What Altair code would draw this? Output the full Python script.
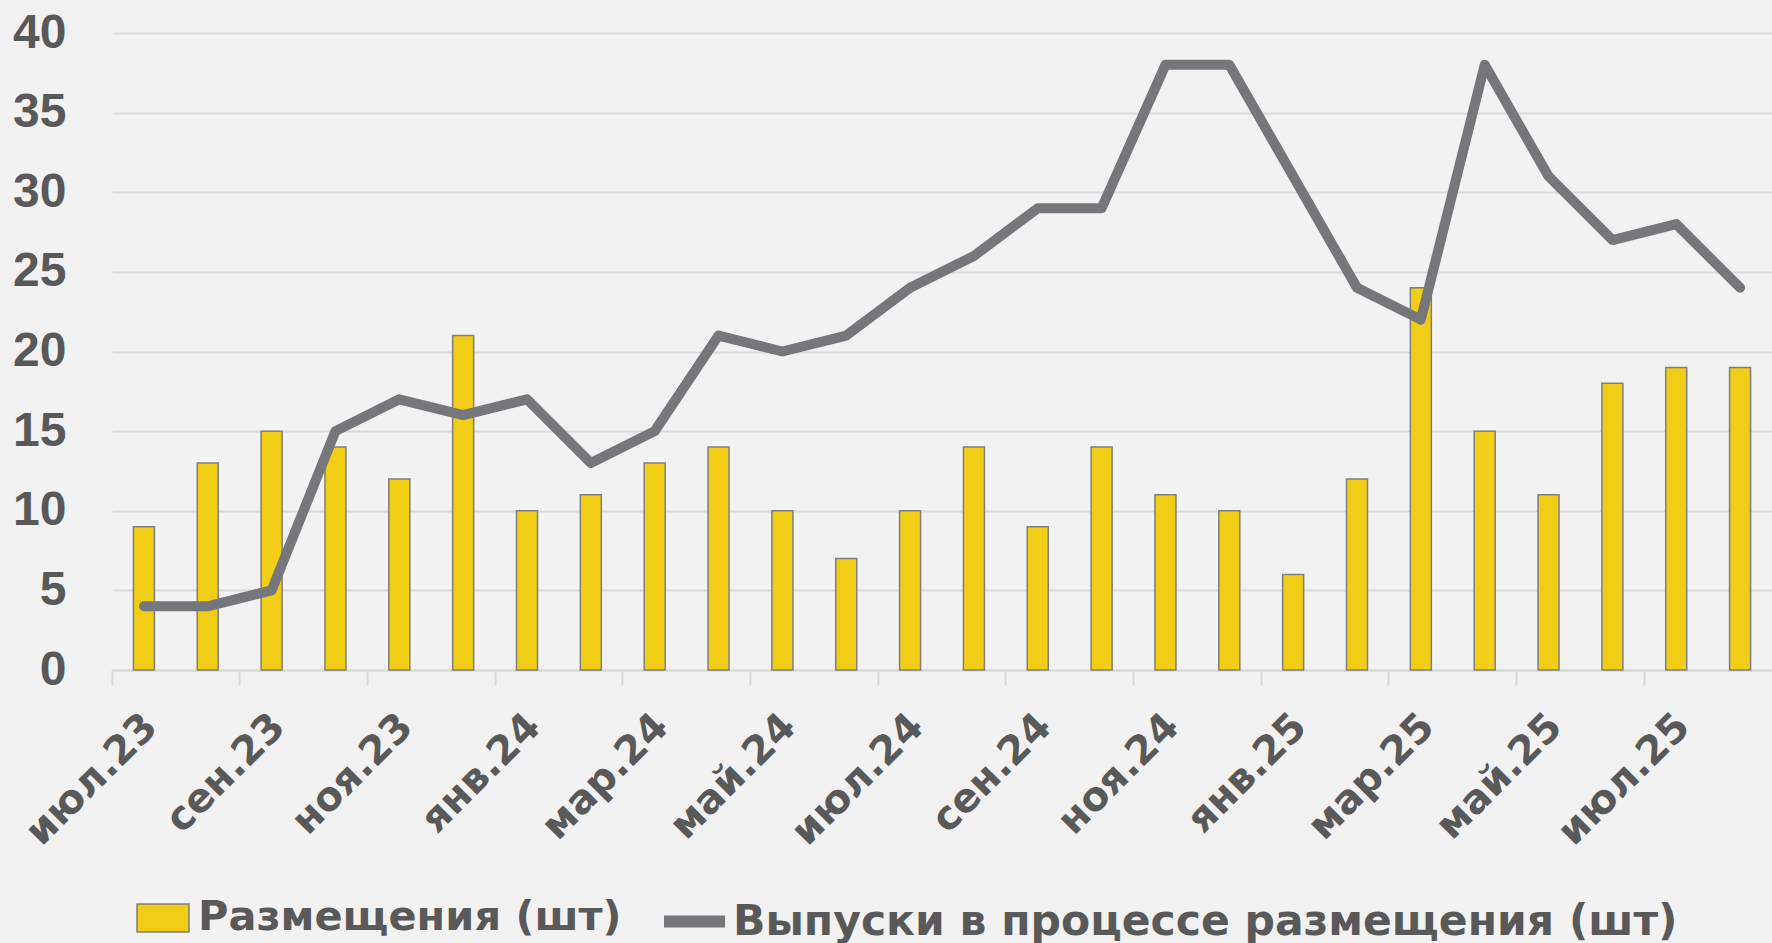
import altair as alt
import pandas as pd

months = ["июл.23", "авг.23", "сен.23", "окт.23", "ноя.23", "дек.23",
          "янв.24", "фев.24", "мар.24", "апр.24", "май.24", "июн.24",
          "июл.24", "авг.24", "сен.24", "окт.24", "ноя.24", "дек.24",
          "янв.25", "фев.25", "мар.25", "апр.25", "май.25", "июн.25",
          "июл.25", "авг.25"]
placements = [9, 13, 15, 14, 12, 21, 10, 11, 13, 14, 10, 7, 10, 14, 9, 14,
              11, 10, 6, 12, 24, 15, 11, 18, 19, 19]
in_process = [4, 4, 5, 15, 17, 16, 17, 13, 15, 21, 20, 21, 24, 26, 29, 29,
              38, 38, 31, 24, 22, 38, 31, 27, 28, 24]
y_ticks = [0, 5, 10, 15, 20, 25, 30, 35, 40]
x_labels = months[::2]
bar_name = "Размещения (шт)"
line_name = "Выпуски в процессе размещения (шт)"

df = pd.DataFrame({
    "month": months,
    "placements": placements,
    "in_process": in_process,
    "bar_series": bar_name,
    "line_series": line_name,
})

W, H = 1660, 637
band = W / len(months)
TXT = "#595959"
GRID = "#D9D9D9"
LFONT = "DejaVu Sans"

x_enc = alt.X(
    "month:N", sort=months, title=None,
    scale=alt.Scale(paddingInner=0, paddingOuter=0),
    axis=alt.Axis(
        values=x_labels, labelAngle=-45, bandPosition=0, labelOffset=-7,
        labelFont=LFONT, labelFontSize=40, labelFontWeight="bold",
        labelColor=TXT, labelPadding=21, labelLimit=1000,
        domainColor=GRID, domainWidth=2, tickColor=GRID, tickWidth=2,
        tickSize=15, grid=False,
    ),
)

y_axis = alt.Axis(
    values=y_ticks, title=None, domain=False, ticks=False, labelPadding=46,
    grid=True, gridColor=GRID, gridWidth=2,
    labelFont="Liberation Sans", labelFontSize=48,
    labelFontWeight="bold", labelColor=TXT,
)
y_scale = alt.Scale(domain=[0, 40], nice=False)

bars = alt.Chart(df).mark_bar(size=21, stroke="#7F7F7F", strokeWidth=1.5).encode(
    x=x_enc,
    y=alt.Y("placements:Q", scale=y_scale, axis=y_axis),
    fill=alt.Fill(
        "bar_series:N", scale=alt.Scale(range=["#F2CD15"]),
        legend=alt.Legend(
            title=None, orient="none", legendX=24, legendY=858, padding=0,
            symbolType="M-1,-0.54H1V0.54H-1Z", symbolSize=2704,
            symbolStrokeColor="#7F7F7F", symbolStrokeWidth=1.5,
            labelFont=LFONT, labelFontSize=41.5, labelFontWeight="bold",
            labelColor=TXT, labelLimit=2000, labelOffset=8,
        ),
    ),
)

line = alt.Chart(df).mark_line(strokeWidth=10, strokeJoin="round", strokeCap="round").encode(
    x=alt.X("month:N", sort=months),
    y=alt.Y("in_process:Q", scale=y_scale, title=None),
    stroke=alt.Stroke(
        "line_series:N", scale=alt.Scale(range=["#76777B"]),
        legend=alt.Legend(
            title=None, orient="none", legendX=546, legendY=852, padding=0,
            symbolType="stroke", symbolSize=3721, symbolStrokeWidth=12,
            labelFont=LFONT, labelFontSize=42.5, labelFontWeight="bold",
            labelColor=TXT, labelLimit=2000, labelOffset=2,
        ),
    ),
)

chart = alt.layer(bars, line).properties(
    width=W, height=H,
    padding={"left": 112, "top": 33, "right": 0, "bottom": 273},
    autosize=alt.AutoSizeParams(type="none"),
).configure(background="#F2F2F2").configure_view(stroke=None)

chart.save("out.html", embed_options={"renderer": "svg", "actions": False})
